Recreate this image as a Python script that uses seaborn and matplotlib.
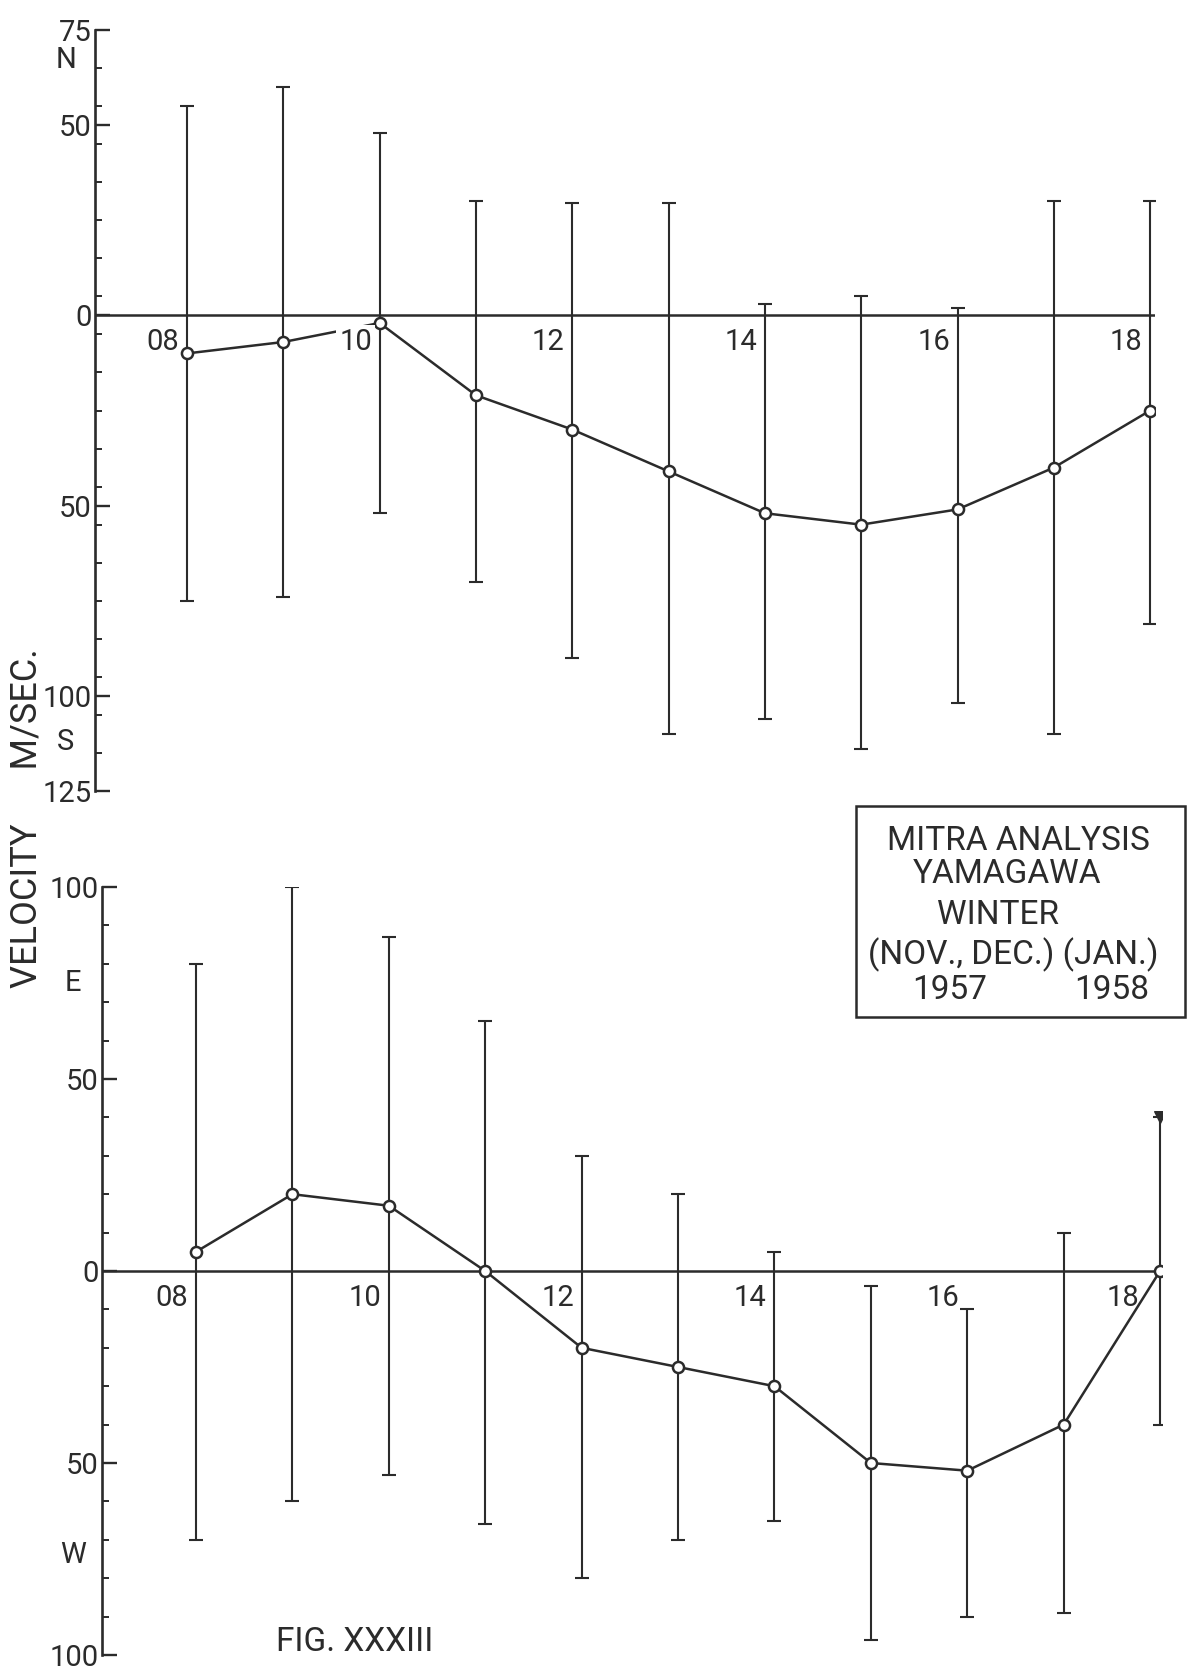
import numpy as np
import matplotlib
matplotlib.use("Agg")
import matplotlib.pyplot as plt
from matplotlib.patches import Rectangle
import seaborn as sns

# Hour of observation (local time)
hours = [8, 9, 10, 11, 12, 13, 14, 15, 16, 17, 18]
hour_labels = ["08", "10", "12", "14", "16", "18"]
hour_label_at = [8, 10, 12, 14, 16, 18]

# North (+) / South (-) drift velocity, m/s: mean and range
ns_mean = [-10, -7, -2, -21, -30, -41, -52, -55, -51, -40, -25]
ns_upper = [55, 60, 48, 30, 29.5, 29.5, 3, 5, 2, 30, 30]
ns_lower = [-75, -74, -52, -70, -90, -110, -106, -114, -102, -110, -81]

# East (+) / West (-) drift velocity, m/s: mean and range
ew_mean = [5, 20, 17, 0, -20, -25, -30, -50, -52, -40, 0]
ew_upper = [80, 100, 87, 65, 30, 20, 5, -4, -10, 10, 40]
ew_lower = [-70, -60, -53, -66, -80, -70, -65, -96, -90, -89, -40]

ns_ticks = [75, 50, 0, -50, -100, -125]
ns_ticklabels = ["75", "50", "0", "50", "100", "125"]
ew_ticks = [100, 50, 0, -50, -100]
ew_ticklabels = ["100", "50", "0", "50", "100"]

ns_letters = [("N", 67), ("S", -112)]
ew_letters = [("E", 75), ("W", -74)]

info_lines = ["MITRA ANALYSIS", "YAMAGAWA", "WINTER", "(NOV., DEC.) (JAN.)"]
info_years = ["1957", "1958"]
fig_title = "FIG. XXXIII"
ylabel = "VELOCITY      M/SEC."

sns.set_theme(style="ticks")
plt.rcParams["font.family"] = ["Roboto", "DejaVu Sans"]

INK = "#2b2b2b"
FS = 21
W, H = 1187, 1670
fig = plt.figure(figsize=(W / 100, H / 100), dpi=100)
fig.patch.set_facecolor("white")


def px_axes(left, right, top, bottom):
    return fig.add_axes([left / W, 1 - bottom / H, (right - left) / W, (bottom - top) / H])


def panel(ax, mean, lower, upper, ticks, ticklabels, letters, ylim, xlim,
          gap_label=None, label_shift=None):
    label_shift = label_shift or {}
    ax.set_facecolor("white")
    ax.set_xlim(*xlim)
    ax.set_ylim(*ylim)
    for s in ["top", "right", "bottom"]:
        ax.spines[s].set_visible(False)
    ax.spines["left"].set_color(INK)
    ax.spines["left"].set_linewidth(1.9)
    ax.axhline(0, color=INK, lw=1.8, zorder=1)

    m = np.array(mean, float)
    lo = np.array(lower, float)
    up = np.array(upper, float)
    ax.errorbar(hours, m, yerr=[m - lo, up - m], fmt="none", ecolor=INK,
                elinewidth=1.5, capsize=5, capthick=1.5, zorder=2)
    sns.lineplot(x=hours, y=mean, ax=ax, color=INK, lw=1.8, marker="o",
                 markersize=8, markerfacecolor="white", markeredgecolor=INK,
                 markeredgewidth=1.8, zorder=4)

    ax.set_xticks([])
    ax.set_yticks(ticks)
    ax.set_yticklabels(ticklabels)
    minor = [v for v in np.arange(ylim[0], ylim[1] + 1, 10) if v % 50 != 0]
    ax.set_yticks(minor, minor=True)
    ax.tick_params(axis="y", which="major", direction="in", length=11, width=1.7,
                   color=INK, labelsize=FS, labelcolor=INK, pad=2.5, left=True)
    ax.tick_params(axis="y", which="minor", direction="in", length=5, width=1.4,
                   color=INK, left=True)
    ax.tick_params(axis="x", bottom=False)

    for h, lab in zip(hour_label_at, hour_labels):
        t = ax.text(h - 0.08 - label_shift.get(lab, 0), -7.0, lab, ha="right",
                    va="center", fontsize=FS, color=INK, zorder=5)
        if gap_label is not None and lab == gap_label:
            t.set_bbox(dict(facecolor="white", edgecolor="none", pad=2))

    for letter, yv in letters:
        ax.annotate(letter, xy=(0, yv), xycoords=ax.get_yaxis_transform(),
                    xytext=(-21, 0), textcoords="offset points", ha="center",
                    va="center", fontsize=FS, color=INK, annotation_clip=False)


ax_top = px_axes(95, 1155, 30, 791)
panel(ax_top, ns_mean, ns_lower, ns_upper, ns_ticks, ns_ticklabels, ns_letters,
      (-125, 75), (7.045, 18.05), gap_label="10")

ax_bot = px_axes(102, 1162, 887, 1655)
panel(ax_bot, ew_mean, ew_lower, ew_upper, ew_ticks, ew_ticklabels, ew_letters,
      (-100, 100), (7.025, 18.02), label_shift={"18": 0.14})
# pointed cap on the last east-west range
ax_bot.scatter([hours[-1]], [ew_upper[-1]], marker="v", s=70, color=INK, zorder=5)

# shared axis title
fig.text(27 / W, 1 - 818 / H, ylabel, rotation=90, ha="center", va="center",
         fontsize=26, color=INK)

# information box
fig.add_artist(Rectangle((856 / W, 1 - 1017 / H), (1185 - 856) / W, (1017 - 806) / H,
                         transform=fig.transFigure, facecolor="none",
                         edgecolor=INK, lw=1.8))
line_pos = [(1018, 841), (1007, 874), (998, 915), (1013, 955)]
for txt, (x, y) in zip(info_lines, line_pos):
    fig.text(x / W, 1 - y / H, txt, ha="center", va="center", fontsize=24, color=INK)
for txt, x in zip(info_years, [950, 1112]):
    fig.text(x / W, 1 - 990 / H, txt, ha="center", va="center", fontsize=24, color=INK)

fig.text(355 / W, 1 - 1642 / H, fig_title, ha="center", va="center",
         fontsize=24, color=INK)

fig.savefig("out.png", dpi=100, facecolor="white")
